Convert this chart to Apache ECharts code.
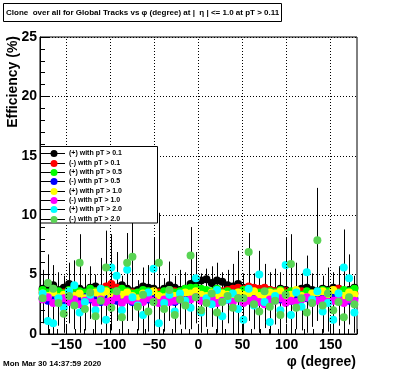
<!DOCTYPE html>
<html>
<head>
<meta charset="utf-8">
<script src="https://cdn.jsdelivr.net/npm/echarts@6/dist/echarts.min.js"></script>
<style>html,body{margin:0;padding:0;background:#fff;}#c{width:396px;height:372px;}</style>
</head>
<body>
<div id="c"></div>
<script>
// ---- DATA ----
const TITLE = 'Clone  over all for Global Tracks vs \u03c6 (degree) at |  \u03b7 | <= 1.0 at pT > 0.11';
const X_TITLE = '\u03c6 (degree)';
const Y_TITLE = 'Efficiency (%)';
const DATE_TEXT = 'Mon Mar 30 14:37:59 2020';
const X_TICKS = [-150, -100, -50, 0, 50, 100, 150];
const Y_TICKS = [0, 5, 10, 15, 20, 25];
const SERIES_NAMES = ['(+) with pT > 0.1', '(-) with pT > 0.1', '(+) with pT > 0.5', '(-) with pT > 0.5',
                      '(+) with pT > 1.0', '(-) with pT > 1.0', '(+) with pT > 2.0', '(-) with pT > 2.0'];
const PHI_BINS = [-177,-171,-165,-159,-153,-147,-141,-135,-129,-123,
                  -117,-111,-105,-99,-93,-87,-81,-75,-69,-63,
                  -57,-51,-45,-39,-33,-27,-21,-15,-9,-3,
                  3,9,15,21,27,33,39,45,51,57,
                  63,69,75,81,87,93,99,105,111,117,
                  123,129,135,141,147,153,159,165,171,177];
const POS_PT01 = [3.8,3.9,4.1,3.7,3.9,4.2,4.0,3.8,3.6,3.9, 4.0,3.8,3.7,3.5,3.9,4.1,3.8,3.6,3.7,4.0,
                  3.9,3.8,3.6,3.8,4.1,3.9,3.7,3.8,4.2,4.4, 4.5,4.6,4.3,4.5,4.4,4.1,4.0,4.2,3.9,3.8,
                  3.7,3.6,3.5,3.7,3.6,3.8,3.7,3.5,3.6,3.8, 3.9,3.7,3.6,3.8,3.7,3.9,3.8,3.6,3.7,3.9];
const NEG_PT01 = [3.5,3.4,3.6,3.3,3.5,3.4,3.6,3.5,3.3,3.4, 3.6,3.8,4.0,4.2,3.9,3.6,3.4,3.5,3.3,3.6,
                  3.5,3.4,3.5,3.3,3.5,3.6,3.4,3.5,3.6,3.7, 3.5,3.6,3.4,3.5,3.6,3.7,3.8,3.9,3.8,4.0,
                  3.9,3.8,3.9,3.7,3.6,3.5,3.6,3.4,3.5,3.6, 3.5,3.3,3.4,3.6,3.5,3.7,3.8,3.6,3.5,3.4];
const POS_PT05 = [3.7,3.5,3.8,3.6,3.4,3.7,3.9,3.6,3.5,3.8, 3.6,3.4,3.7,3.5,3.6,3.8,3.6,3.4,3.5,3.7,
                  3.6,3.5,3.3,3.6,3.7,3.5,3.6,3.8,3.9,3.9, 3.8,3.7,3.6,3.8,3.5,3.6,3.4,3.5,3.7,3.6,
                  3.4,3.5,3.3,3.6,3.5,3.7,3.4,3.6,3.5,3.3, 3.6,3.4,3.5,3.7,3.6,3.4,3.5,3.7,3.6,3.8];
const NEG_PT05 = [3.0,2.8,3.1,2.9,2.7,3.0,2.9,2.8,3.1,2.9, 3.0,2.7,2.9,3.1,2.8,3.0,2.9,2.7,3.0,2.8,
                  2.9,3.1,2.8,2.9,3.0,2.7,2.9,3.0,3.1,3.2, 3.0,2.9,3.1,2.8,3.0,2.9,3.1,3.0,2.8,3.2,
                  3.1,2.9,3.0,2.8,3.1,2.9,3.0,2.8,2.9,3.1, 3.0,2.8,2.9,3.0,2.8,3.1,2.9,3.0,2.8,3.0];
const POS_PT10 = [3.4,3.2,3.5,3.1,3.3,3.6,3.2,3.4,3.0,3.3, 3.5,3.2,3.6,3.1,3.4,3.3,3.5,3.2,3.0,3.4,
                  3.3,3.6,3.2,3.1,3.4,3.2,3.3,3.5,3.4,3.6, 3.3,3.2,3.5,3.1,3.4,3.3,3.2,3.5,3.3,3.4,
                  3.6,3.2,3.1,3.5,3.4,3.6,3.2,3.3,3.7,3.2, 3.1,3.4,3.5,3.6,3.3,3.7,3.4,3.2,3.5,3.3];
const NEG_PT10 = [2.9,3.1,2.6,2.8,3.0,2.7,2.9,2.5,2.8,3.0, 2.6,2.9,2.7,2.8,3.1,2.6,2.9,2.8,2.5,2.7,
                  3.0,2.8,2.6,2.9,2.7,2.8,3.0,2.6,2.9,3.1, 2.8,2.7,3.0,2.6,2.8,2.9,2.7,3.0,2.6,2.8,
                  2.9,2.7,2.5,2.9,2.8,3.0,2.6,2.8,2.7,2.9, 3.1,2.6,2.8,2.9,2.7,2.8,3.0,2.6,2.9,2.8];
const POS_PT20 = [3.4,1.1,0.9,3.0,2.2,3.6,4.1,1.8,2.7,3.3, 2.0,3.8,1.2,5.6,4.9,2.0,5.4,3.1,2.4,1.6,
                  3.5,5.5,0.9,2.6,3.3,1.9,3.4,2.8,2.2,4.7, 1.8,3.0,2.5,3.7,1.5,2.9,3.4,2.1,1.2,3.8,
                  2.4,5.0,2.7,1.0,3.2,2.0,5.8,1.6,3.5,2.3, 5.2,2.9,3.6,1.9,2.6,1.2,3.4,5.6,4.7,1.8];
const NEG_PT20 = [3.0,4.3,3.8,2.6,1.7,3.2,2.4,6.0,2.1,3.5, 1.5,2.8,5.6,2.2,3.6,1.4,6.0,6.5,2.3,3.3,
                  1.9,2.7,6.0,2.1,3.7,1.6,2.9,2.4,6.6,3.1, 2.0,2.6,3.4,1.8,2.7,3.2,2.2,3.0,3.0,6.9,
                  2.5,1.9,3.6,2.3,2.8,1.6,3.3,5.9,2.2,3.0, 1.8,2.6,7.9,2.4,3.4,2.0,2.7,1.4,3.1,2.5];
const ERR_POS_PT01 = [0.8,0.6,1.0,0.7,0.9,1.1,0.6,0.8,0.7,1.0, 0.5,0.9,0.8,0.6,1.2,0.7,0.9,0.6,0.8,1.0,
                      0.7,0.5,0.9,0.8,0.6,1.0,0.7,0.9,0.8,1.1, 0.6,0.9,0.7,1.0,0.8,0.6,0.9,0.7,1.0,0.8,
                      0.6,0.9,0.7,0.8,1.0,0.6,0.9,0.7,0.8,0.6, 1.0,0.7,0.9,0.8,0.6,1.0,0.7,0.8,0.9,0.7];
const ERR_NEG_PT01 = [0.7,0.9,0.6,1.0,0.8,0.7,1.1,0.6,0.9,0.8, 0.7,1.0,0.8,0.9,0.6,1.1,0.7,0.8,1.0,0.6,
                      0.9,0.7,0.8,1.1,0.6,0.9,0.8,0.7,1.0,0.8, 0.6,0.9,1.1,0.7,0.8,0.6,1.0,0.9,0.7,0.8,
                      1.0,0.6,0.8,0.9,0.7,1.1,0.8,0.6,0.9,0.7, 0.8,1.0,0.7,0.9,0.6,0.8,1.0,0.7,0.9,0.8];
const ERR_POS_PT05 = [1.1,0.9,1.3,1.0,1.2,0.8,1.4,1.0,0.9,1.2, 1.1,1.3,0.9,1.0,1.2,0.8,1.1,1.4,1.0,0.9,
                      1.2,1.0,1.3,0.9,1.1,1.2,0.8,1.0,1.3,1.1, 0.9,1.2,1.0,1.4,0.9,1.1,1.0,1.2,0.8,1.3,
                      1.0,1.1,0.9,1.2,1.0,1.4,0.9,1.1,1.2,0.8, 1.0,1.3,1.1,0.9,1.2,1.0,0.8,1.1,1.3,1.0];
const ERR_NEG_PT05 = [1.2,1.0,1.4,1.1,0.9,1.3,1.0,1.2,1.5,1.0, 0.9,1.3,1.1,1.2,1.0,1.4,0.9,1.1,1.3,1.0,
                      1.2,0.9,1.1,1.4,1.0,1.2,1.1,0.9,1.3,1.0, 1.1,1.4,0.9,1.2,1.0,1.3,1.1,0.9,1.2,1.4,
                      1.0,1.1,1.3,0.9,1.2,1.0,1.1,1.4,0.9,1.2, 1.0,1.3,1.1,1.0,1.2,0.9,1.4,1.1,1.0,1.2];
const ERR_POS_PT10 = [1.6,1.3,1.9,1.5,1.2,1.8,1.4,1.7,1.3,2.0, 1.5,1.2,1.7,1.9,1.4,1.6,1.3,1.8,1.5,1.2,
                      1.7,1.4,1.9,1.3,1.6,1.5,1.8,1.2,1.4,1.7, 1.6,1.3,1.9,1.5,1.2,1.7,1.4,1.8,1.3,1.6,
                      1.5,1.9,1.2,1.7,1.4,1.6,1.3,1.8,1.5,1.2, 1.7,1.4,1.9,1.3,1.6,1.5,1.2,1.8,1.4,1.6];
const ERR_NEG_PT10 = [1.4,1.7,1.2,1.6,1.9,1.3,1.5,1.8,1.2,1.6, 1.4,1.9,1.3,1.7,1.5,1.2,1.8,1.4,1.6,1.3,
                      1.9,1.5,1.2,1.7,1.4,1.6,1.8,1.3,1.5,1.2, 1.7,1.4,1.9,1.3,1.6,1.5,1.2,1.8,1.4,1.7,
                      1.3,1.6,1.5,1.9,1.2,1.7,1.4,1.6,1.8,1.3, 1.5,1.2,1.7,1.4,1.9,1.6,1.3,1.5,1.8,1.4];
const ERR_POS_PT20 = [2.0,1.8,1.6,2.2,1.9,2.4,2.1,1.7,2.3,2.0, 1.8,2.6,1.5,2.8,2.0,2.2,2.5,2.0,1.9,1.6,
                      2.3,2.6,1.4,2.1,2.2,1.7,2.0,2.4,1.8,2.2, 1.6,2.1,1.9,2.3,1.5,2.0,2.5,1.8,1.6,2.4,
                      2.0,2.0,2.2,1.4,2.3,1.9,2.3,1.7,2.5,2.0, 1.4,2.2,2.1,1.8,2.4,1.5,2.3,3.2,2.0,1.7];
const ERR_NEG_PT20 = [2.1,2.4,2.0,1.9,1.6,2.3,2.0,2.4,1.8,2.2, 1.5,2.0,3.1,1.9,2.5,1.6,2.5,2.9,2.0,2.3,
                      1.7,2.2,4.2,1.9,2.4,1.5,2.1,1.8,2.4,2.2, 1.9,2.0,2.3,1.7,2.1,2.2,1.9,4.0,2.1,1.6,
                      2.0,1.8,2.3,1.9,2.0,1.6,2.4,2.5,1.8,2.1, 1.7,2.0,4.4,1.9,2.2,1.7,2.0,1.5,2.3,2.0];

const VALUES = [POS_PT01, NEG_PT01, POS_PT05, NEG_PT05, POS_PT10, NEG_PT10, POS_PT20, NEG_PT20];
const ERRORS = [ERR_POS_PT01, ERR_NEG_PT01, ERR_POS_PT05, ERR_NEG_PT05, ERR_POS_PT10, ERR_NEG_PT10, ERR_POS_PT20, ERR_NEG_PT20];

// ---- STYLE ----
const COLORS = ['#000000', '#ff0000', '#00ff00', '#0000ff', '#ffff00', '#ff00ff', '#00ffff', '#59d454'];
const FONT = 'Liberation Sans, Arial, Helvetica, sans-serif';
const G = {left: 40, top: 37, right: 39, bottom: 38};

const chart = echarts.init(document.getElementById('c'), null, {renderer: 'canvas'});

function errRender(params, api) {
  const x = api.value(0), y = api.value(1), e = api.value(2);
  const p1 = api.coord([x, y + e]);
  const p2 = api.coord([x, Math.max(0, y - e)]);
  const px = Math.round(p1[0]) + 0.5;
  return {type: 'line', shape: {x1: px, y1: p1[1], x2: px, y2: p2[1]},
          style: {stroke: '#000', lineWidth: 1}};
}

const series = [];
VALUES.forEach((vals, k) => {
  const data = PHI_BINS.map((x, i) => [x, vals[i], ERRORS[k][i]]);
  series.push({
    type: 'custom', name: SERIES_NAMES[k] + ' err', renderItem: errRender,
    data: data, encode: {x: 0, y: 1}, clip: true, silent: true
  });
  const s = {
    type: 'scatter', name: SERIES_NAMES[k], data: data.map(d => [d[0], d[1]]),
    symbol: 'circle', symbolSize: 8, itemStyle: {color: COLORS[k], opacity: 1},
    clip: true, silent: true
  };
  if (k === 0) {
    s.markLine = {
      silent: true, symbol: 'none', label: {show: false},
      lineStyle: {type: [1, 2], color: '#000', width: 1},
      data: X_TICKS.map(v => ({xAxis: v})), animation: false
    };
  }
  series.push(s);
});

const elements = [];
// title box
elements.push({type: 'rect', z: 100, shape: {x: 3.5, y: 3.5, width: 278, height: 18},
  style: {fill: '#fff', stroke: '#000', lineWidth: 1}});
elements.push({type: 'text', z: 101, x: 6, y: 13,
  style: {text: TITLE, font: 'bold 8px ' + FONT, fill: '#000', verticalAlign: 'middle'}});
// legend box
elements.push({type: 'rect', z: 100, shape: {x: 40.5, y: 146.5, width: 117, height: 76.5},
  style: {fill: '#fff', stroke: '#000', lineWidth: 1}});
SERIES_NAMES.forEach((name, i) => {
  const y = Math.round(153.3 + 9.34 * i) + 0.5;
  elements.push({type: 'line', z: 101, shape: {x1: 40, y1: y, x2: 65, y2: y}, style: {stroke: '#000', lineWidth: 1}});
  elements.push({type: 'circle', z: 102, shape: {cx: 54, cy: y, r: 3.5}, style: {fill: COLORS[i]}});
  elements.push({type: 'text', z: 102, x: 69, y: y,
    style: {text: name, font: 'bold 7px ' + FONT, fill: '#000', verticalAlign: 'middle'}});
});
// axis titles and date
elements.push({type: 'text', z: 101, x: 13, y: 36, rotation: Math.PI / 2,
  style: {text: Y_TITLE, font: 'bold 14px ' + FONT, fill: '#000', align: 'right', verticalAlign: 'middle'}});
elements.push({type: 'text', z: 101, x: 356, y: 362,
  style: {text: X_TITLE, font: 'bold 14px ' + FONT, fill: '#000', align: 'right', verticalAlign: 'middle'}});
elements.push({type: 'text', z: 101, x: 3, y: 364,
  style: {text: DATE_TEXT, font: 'bold 8px ' + FONT, fill: '#000', align: 'left', verticalAlign: 'middle'}});

const option = {
  animation: false,
  backgroundColor: '#fff',
  grid: {left: G.left, top: G.top, right: G.right, bottom: G.bottom, show: true,
         borderColor: '#000', borderWidth: 1, backgroundColor: 'transparent', containLabel: false},
  xAxis: [{
    type: 'value', min: -180, max: 180, position: 'bottom',
    axisLine: {show: true, onZero: false, lineStyle: {color: '#000', width: 1}},
    axisTick: {show: true, inside: true, length: 9, customValues: X_TICKS, lineStyle: {color: '#000'}},
    axisLabel: {show: true, customValues: X_TICKS, margin: 4, color: '#000',
      fontFamily: FONT, fontWeight: 'bold', fontSize: 14,
      formatter: v => String(v).replace('-', '\u2212')},
    splitLine: {show: false}
  }, {
    type: 'value', min: -180, max: 180, interval: 10, position: 'bottom',
    axisLine: {show: false, onZero: false},
    axisTick: {show: true, inside: true, length: 5, lineStyle: {color: '#000'}},
    axisLabel: {show: false}, splitLine: {show: false}
  }],
  yAxis: {
    type: 'value', min: 0, max: 25, interval: 5, position: 'left',
    axisLine: {show: true, onZero: false, lineStyle: {color: '#000', width: 1}},
    axisTick: {show: true, inside: true, length: 9, lineStyle: {color: '#000'}},
    minorTick: {show: true, splitNumber: 5, length: 5, lineStyle: {color: '#000'}},
    axisLabel: {show: true, margin: 3, color: '#000', fontFamily: FONT, fontWeight: 'bold', fontSize: 14},
    splitLine: {show: true, lineStyle: {type: [1, 2], color: '#000', width: 1}}
  },
  graphic: {elements: elements},
  series: series
};
chart.setOption(option);
</script>
</body>
</html>
